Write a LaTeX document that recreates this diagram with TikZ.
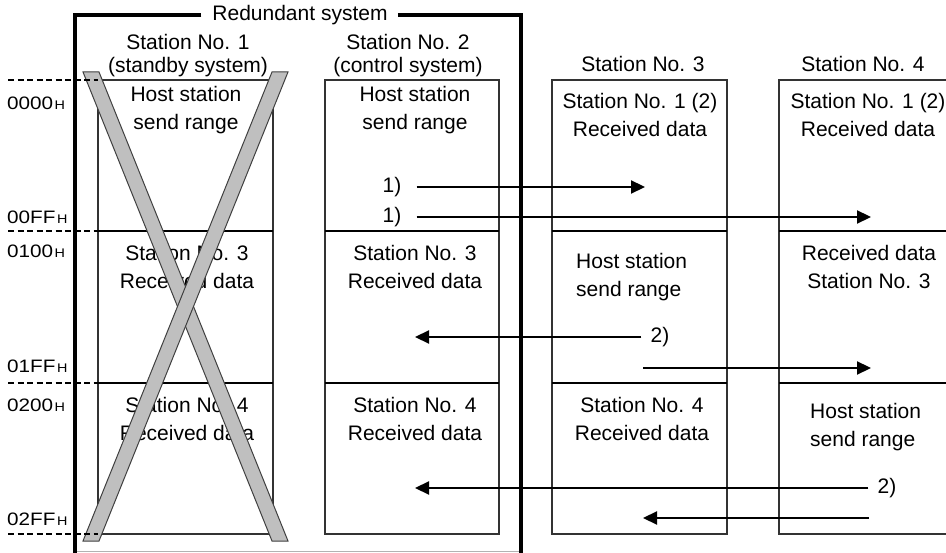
\documentclass[tikz,border=0pt]{standalone}
\usepackage{fontspec}
\setmainfont{Liberation Sans}
\newfontfamily\addrfont[FakeStretch=1.15]{Liberation Sans}
\usetikzlibrary{arrows.meta,calc}
\newcommand{\hexH}{\hspace{1.5pt}{\fontsize{12.5}{13}\selectfont H}}

\begin{document}
\begin{tikzpicture}[x=1pt, y=-1pt,
    txt/.style={font=\fontsize{21}{28}\selectfont, align=center, inner sep=0pt},
    ttl/.style={font=\fontsize{21}{23}\selectfont, align=center, inner sep=0pt},
    addr/.style={font=\addrfont\fontsize{18}{20}\selectfont, anchor=base west, inner sep=0pt},
    membox/.style={draw=black!80, line width=1.3pt},
    divline/.style={draw=black, line width=1.8pt},
    addrline/.style={draw=black, line width=1.8pt, dash pattern=on 6pt off 3.5pt},
    frame/.style={draw=black, line width=4pt},
    xbar/.style={draw=black!75, line width=1pt, fill=gray!50},
    arr/.style={-{Triangle[length=14pt,width=13pt]}, line width=2.2pt},
]
\useasboundingbox (0,0) rectangle (946,553);

% memory boxes of the four stations
\foreach \l/\r in {98/273, 325/499, 552/727, 779/952} {
    \draw[membox] (\l,80) rectangle (\r,534);
    \foreach \y in {231,383}
        \draw[divline] (\l,\y) -- (\r,\y);
}

% titles
\node[ttl] (redlbl) at (300,14.7) {Redundant system};
\node[ttl] (t1) at (188,56) {Station No. 1\\(standby system)};
\node[ttl] (t2) at (408,56) {Station No. 2\\(control system)};
\node[ttl] (t3) at (643,63.5) {Station No. 3};
\node[ttl] (t4) at (863,63.5) {Station No. 4};

% box contents
\node[txt] (s1a) at (186,110) {Host station\\send range};
\node[txt] (s1b) at (187,266.5) {Station No. 3\\Received data};
\node[txt] (s1c) at (187,418.5) {Station No. 4\\Received data};

\node[txt] (s2a) at (415,110) {Host station\\send range};
\node[txt] (s2b) at (415,266.5) {Station No. 3\\Received data};
\node[txt] (s2c) at (415,418.5) {Station No. 4\\Received data};

\node[txt] (s3a) at (640,115.4) {Station No. 1 (2)\\Received data};
\node[txt, align=left, anchor=west] (s3b) at (576,276.7) {Host station\\send range};
\node[txt] (s3c) at (642,418.5) {Station No. 4\\Received data};

\node[txt] (s4a) at (868,115.4) {Station No. 1 (2)\\Received data};
\node[txt] (s4b) at (869,266.5) {Received data\\Station No. 3};
\node[txt, align=left, anchor=west] (s4c) at (810,427) {Host station\\send range};

% standby station crossed out
\draw[xbar] (83,72) -- (99,72) -- (288,541) -- (272,541) -- cycle;
\draw[xbar] (272,72) -- (288,72) -- (99,541) -- (83,541) -- cycle;

% address marks
\foreach \y in {80,231,383,534}
    \draw[addrline] (8,\y) -- (98,\y);
\node[addr] (a0) at (7,110) {0000\hexH};
\node[addr] (a1) at (7,224) {00FF\hexH};
\node[addr] (a2) at (7,258) {0100\hexH};
\node[addr] (a3) at (7,373) {01FF\hexH};
\node[addr] (a4) at (7,412) {0200\hexH};
\node[addr] (a5) at (7,525) {02FF\hexH};

% redundant system frame
\draw[gray!60, line width=1pt] (75,551) -- (521,551);
\draw[frame] ([xshift=-11pt]redlbl.west) -| (75,553);
\draw[frame] ([xshift=10pt]redlbl.east) -| (521,553);

% data transfers
\node[txt] (one1) at (392,187) {1)};
\node[txt] (one2) at (392,217) {1)};
\node[txt] (two1) at (660,337) {2)};
\node[txt] (two2) at (887,488) {2)};
\coordinate (tip1) at (645,187);
\coordinate (tip2) at (871,217);
\coordinate (tip3) at (415,337);
\coordinate (tip4) at (415,488);
\coordinate (fr5) at (643,368);
\coordinate (tip5) at (871,368);
\coordinate (fr6) at (869,518);
\coordinate (tip6) at (643,518);
\draw[arr] ([xshift=15pt]one1.east) -- (tip1);
\draw[arr] ([xshift=15pt]one2.east) -- (tip2);
\draw[arr] ([xshift=-9pt]two1.west) -- (tip3);
\draw[arr] ([xshift=-9pt]two2.west) -- (tip4);
\draw[arr] (fr5) -- (tip5);
\draw[arr] (fr6) -- (tip6);

\end{tikzpicture}
\end{document}
